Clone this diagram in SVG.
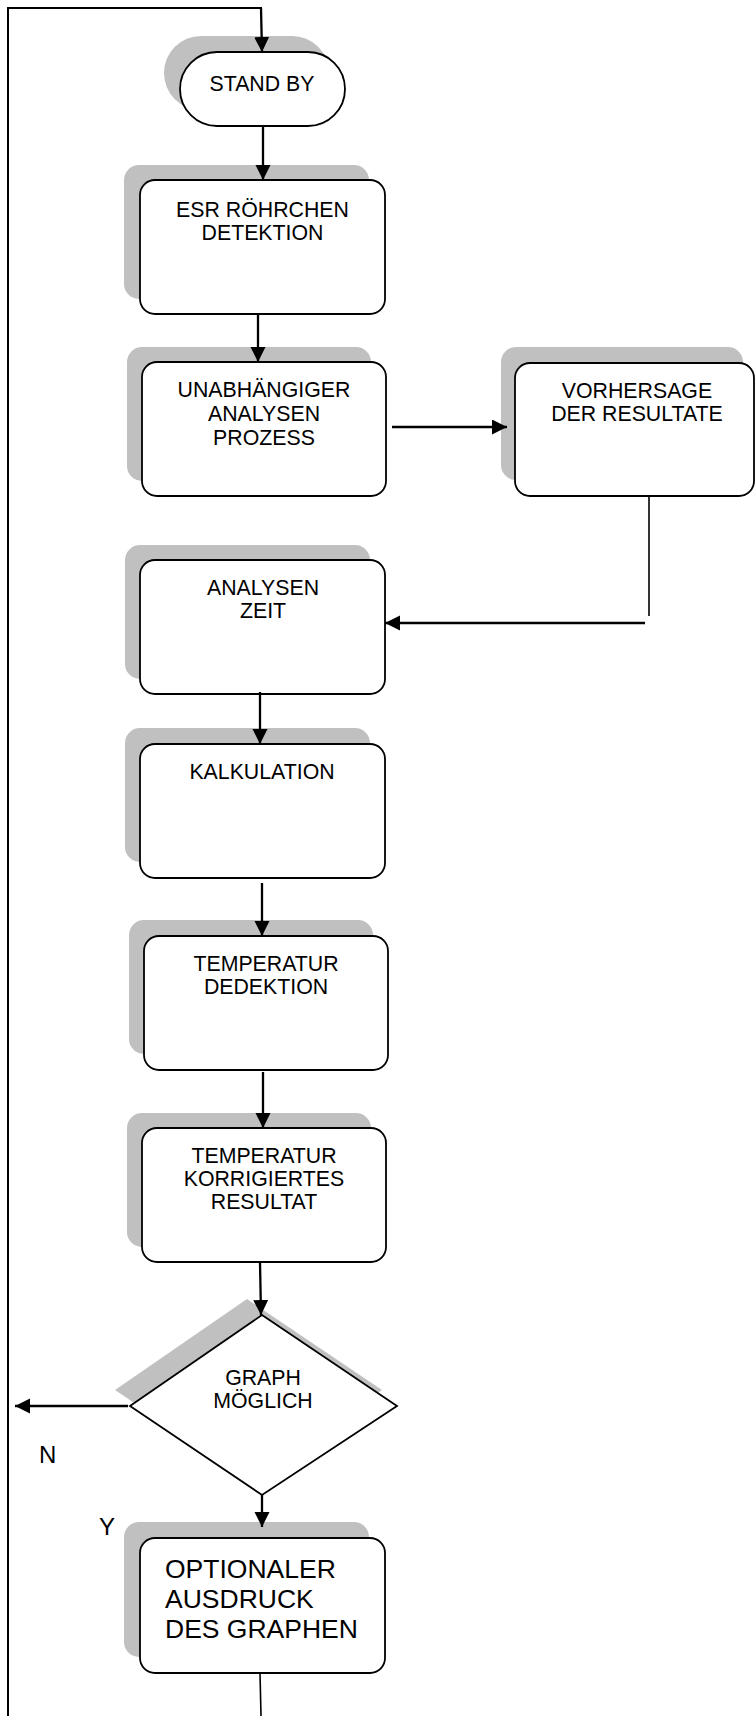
<svg xmlns="http://www.w3.org/2000/svg" width="755" height="1716" viewBox="0 0 755 1716">
<style>
.bg{fill:#ffffff}
.sh{fill:#c0c0c0;stroke:none}
.box{fill:#ffffff;stroke:#000000;stroke-width:1.8}
.t{font-family:"Liberation Sans",Arial,sans-serif;font-size:21.3px;fill:#000000;text-anchor:middle}
.tl{font-family:"Liberation Sans",Arial,sans-serif;font-size:26.5px;fill:#000000}
.c{fill:none;stroke:#000000;stroke-width:2.3}
.thin{fill:none;stroke:#000000;stroke-width:1.6}
.loop{fill:none;stroke:#000000;stroke-width:2}
</style>
<defs>
<marker id="ah" markerUnits="userSpaceOnUse" markerWidth="17" markerHeight="17" refX="15" refY="7.5" orient="auto">
<path d="M0,0 L15,7.5 L0,15 z" fill="#000000"/>
</marker>
</defs>
<rect class="bg" x="0" y="0" width="755" height="1716"/>

<g id="standby">
<rect class="sh" x="164" y="36" width="165" height="74" rx="37" ry="37"/>
<rect class="box" x="180" y="52" width="165" height="74" rx="37" ry="37"/>
<text class="t" x="262" y="91">STAND BY</text>
</g>

<g id="esr">
<rect class="sh" x="124" y="165" width="245" height="134" rx="15"/>
<rect class="box" x="140" y="180" width="245" height="134" rx="15"/>
<text class="t" x="262.5" y="217">ESR RÖHRCHEN</text>
<text class="t" x="262.5" y="240">DETEKTION</text>
</g>

<g id="unabh">
<rect class="sh" x="127" y="347" width="244" height="134" rx="15"/>
<rect class="box" x="142" y="362" width="244" height="134" rx="15"/>
<text class="t" x="264" y="397">UNABHÄNGIGER</text>
<text class="t" x="264" y="421">ANALYSEN</text>
<text class="t" x="264" y="445">PROZESS</text>
</g>

<g id="vorhersage">
<rect class="sh" x="501" y="347" width="242" height="133" rx="15"/>
<rect class="box" x="515" y="363" width="239" height="133" rx="15"/>
<text class="t" x="637" y="398">VORHERSAGE</text>
<text class="t" x="637" y="421">DER RESULTATE</text>
</g>

<g id="analysenzeit">
<rect class="sh" x="125" y="545" width="245" height="134" rx="15"/>
<rect class="box" x="140" y="560" width="245" height="134" rx="15"/>
<text class="t" x="263" y="595">ANALYSEN</text>
<text class="t" x="263" y="618">ZEIT</text>
</g>

<g id="kalkulation">
<rect class="sh" x="125" y="728" width="245" height="134" rx="15"/>
<rect class="box" x="140" y="744" width="245" height="134" rx="15"/>
<text class="t" x="262" y="779">KALKULATION</text>
</g>

<g id="tempdetektion">
<rect class="sh" x="129" y="920" width="244" height="134" rx="15"/>
<rect class="box" x="144" y="936" width="244" height="134" rx="15"/>
<text class="t" x="266" y="971">TEMPERATUR</text>
<text class="t" x="266" y="994">DEDEKTION</text>
</g>

<g id="tempkorr">
<rect class="sh" x="127" y="1113" width="244" height="134" rx="15"/>
<rect class="box" x="142" y="1128" width="244" height="134" rx="15"/>
<text class="t" x="264" y="1163">TEMPERATUR</text>
<text class="t" x="264" y="1186">KORRIGIERTES</text>
<text class="t" x="264" y="1209">RESULTAT</text>
</g>

<g id="graph">
<polygon class="sh" points="247,1299 382,1390 247,1479 115,1390"/>
<polygon class="box" points="262,1315 397,1406 262,1495 130,1406"/>
<text class="t" x="263" y="1385">GRAPH</text>
<text class="t" x="263" y="1408">MÖGLICH</text>
</g>

<g id="optional">
<rect class="sh" x="124" y="1522" width="245" height="135" rx="15"/>
<rect class="box" x="140" y="1538" width="245" height="135" rx="15"/>
<text class="tl" x="165" y="1578">OPTIONALER</text>
<text class="tl" x="165" y="1608">AUSDRUCK</text>
<text class="tl" x="165" y="1638">DES GRAPHEN</text>
</g>

<g id="connectors">
<line class="thin" x1="261" y1="1716" x2="260" y2="1673"/>
<line class="loop" x1="8" y1="7" x2="8" y2="1716"/>
<line class="loop" x1="7" y1="8" x2="262" y2="8"/>
<line class="c" x1="261" y1="8" x2="262" y2="52" marker-end="url(#ah)"/>
<line class="c" x1="263" y1="126" x2="263" y2="180" marker-end="url(#ah)"/>
<line class="c" x1="258" y1="314" x2="258" y2="362" marker-end="url(#ah)"/>
<line class="c" x1="392" y1="427" x2="507" y2="427" marker-end="url(#ah)"/>
<line class="thin" x1="649" y1="496" x2="649" y2="616"/>
<line class="c" x1="645" y1="623" x2="385" y2="623" marker-end="url(#ah)"/>
<line class="c" x1="260" y1="692" x2="260" y2="744" marker-end="url(#ah)"/>
<line class="c" x1="262" y1="883" x2="262" y2="936" marker-end="url(#ah)"/>
<line class="c" x1="263" y1="1072" x2="263" y2="1128" marker-end="url(#ah)"/>
<line class="c" x1="260" y1="1262" x2="261" y2="1315" marker-end="url(#ah)"/>
<line class="c" x1="128" y1="1406" x2="15" y2="1406" marker-end="url(#ah)"/>
<line class="c" x1="262" y1="1495" x2="262" y2="1527" marker-end="url(#ah)"/>
</g>

<text class="tl" x="39" y="1463" style="font-size:24px">N</text>
<text class="tl" x="99" y="1535" style="font-size:24px">Y</text>
</svg>
